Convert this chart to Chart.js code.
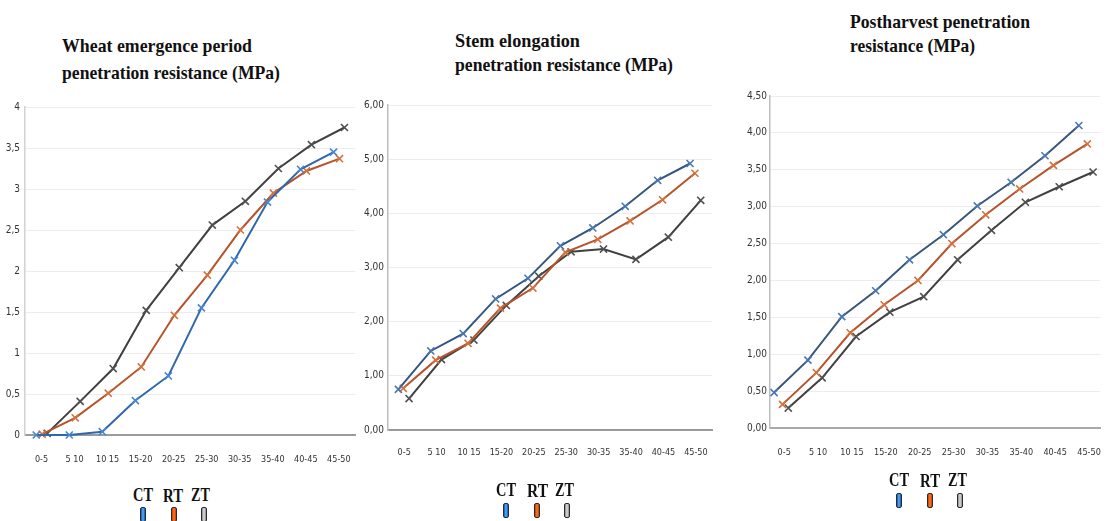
<!DOCTYPE html>
<html><head><meta charset="utf-8">
<script src="https://cdn.jsdelivr.net/npm/chart.js@4"></script>
<style>
body{margin:0;background:#fff;width:1120px;height:521px;overflow:hidden;position:relative;}
canvas{position:absolute}
.t{position:absolute;font-family:'Liberation Serif',serif;font-weight:bold;font-size:19px;color:#111;white-space:nowrap;transform-origin:0 50%;line-height:20px}
.lg{position:absolute;font-family:'Liberation Serif',serif;font-weight:bold;font-size:19px;color:#111;line-height:18px;white-space:nowrap;transform-origin:0 50%}
.sw{position:absolute;width:4px;height:13px;border:1px solid #2a2a2a;border-radius:2px}
</style></head>
<body>
<canvas id="c1" width="370" height="385" style="left:0;top:95px"></canvas>
<canvas id="c2" width="365" height="385" style="left:360px;top:95px"></canvas>
<canvas id="c3" width="385" height="395" style="left:735px;top:85px"></canvas>

<div class="t" data-w="190" style="left:62px;top:36px">Wheat emergence period</div>
<div class="t" data-w="218" style="left:62px;top:63px">penetration resistance (MPa)</div>
<div class="t" data-w="125" style="left:455px;top:31px">Stem elongation</div>
<div class="t" data-w="218" style="left:455px;top:55px">penetration resistance (MPa)</div>
<div class="t" data-w="180" style="left:850px;top:12px">Postharvest penetration</div>
<div class="t" data-w="125" style="left:850px;top:36px">resistance (MPa)</div>

<div class="lg" data-w="20" style="left:133px;top:486px">CT</div>
<div class="lg" data-w="20" style="left:163px;top:487px">RT</div>
<div class="lg" data-w="19" style="left:191px;top:486px">ZT</div>
<div class="sw" style="left:140px;top:507px;background:linear-gradient(to right,#0b56b8,#5ab0ff,#0b56b8)"></div>
<div class="sw" style="left:171px;top:507px;background:linear-gradient(to right,#c83c00,#ff7a2c,#c83c00)"></div>
<div class="sw" style="left:201px;top:507px;background:linear-gradient(to right,#8a8a8a,#e0e0e0,#8a8a8a)"></div>

<div class="lg" data-w="20" style="left:496px;top:481px">CT</div>
<div class="lg" data-w="21" style="left:527px;top:482px">RT</div>
<div class="lg" data-w="19" style="left:555px;top:481px">ZT</div>
<div class="sw" style="left:503px;top:503px;background:linear-gradient(to right,#0b56b8,#5ab0ff,#0b56b8)"></div>
<div class="sw" style="left:534px;top:503px;background:linear-gradient(to right,#c83c00,#ff7a2c,#c83c00)"></div>
<div class="sw" style="left:564px;top:503px;background:linear-gradient(to right,#8a8a8a,#e0e0e0,#8a8a8a)"></div>

<div class="lg" data-w="20" style="left:889px;top:471px">CT</div>
<div class="lg" data-w="20" style="left:920px;top:472px">RT</div>
<div class="lg" data-w="19" style="left:948px;top:471px">ZT</div>
<div class="sw" style="left:896px;top:493px;background:linear-gradient(to right,#0b56b8,#5ab0ff,#0b56b8)"></div>
<div class="sw" style="left:927px;top:493px;background:linear-gradient(to right,#c83c00,#ff7a2c,#c83c00)"></div>
<div class="sw" style="left:957px;top:493px;background:linear-gradient(to right,#8a8a8a,#e0e0e0,#8a8a8a)"></div>

<script>
const categories = ['0-5','5 10','10 15','15-20','20-25','25-30','30-35','35-40','40-45','45-50'];
const seriesNames = ['CT','RT','ZT'];

const emergenceCT = [0.00, 0.00, 0.04, 0.42, 0.72, 1.55, 2.13, 2.84, 3.24, 3.45];
const emergenceRT = [0.01, 0.21, 0.51, 0.83, 1.46, 1.95, 2.50, 2.95, 3.22, 3.37];
const emergenceZT = [0.02, 0.41, 0.81, 1.52, 2.04, 2.56, 2.85, 3.25, 3.54, 3.75];

const elongationCT = [0.75, 1.46, 1.78, 2.42, 2.80, 3.40, 3.73, 4.13, 4.61, 4.92];
const elongationRT = [0.77, 1.29, 1.60, 2.25, 2.62, 3.28, 3.52, 3.86, 4.25, 4.74];
const elongationZT = [0.58, 1.30, 1.66, 2.30, 2.84, 3.29, 3.34, 3.15, 3.56, 4.24];

const postharvestCT = [0.48, 0.92, 1.51, 1.86, 2.28, 2.62, 3.01, 3.33, 3.69, 4.10];
const postharvestRT = [0.32, 0.75, 1.29, 1.67, 2.00, 2.50, 2.89, 3.24, 3.56, 3.85];
const postharvestZT = [0.27, 0.68, 1.24, 1.57, 1.78, 2.28, 2.68, 3.06, 3.27, 3.47];

const tickFont = {family:"'Liberation Sans Narrow','DejaVu Sans Condensed','Liberation Sans',sans-serif", size:10};
const xFont = {family:"'Liberation Sans Narrow','DejaVu Sans Condensed','Liberation Sans',sans-serif", size:9};

function build(id, series, o) {
  const datasets = series.map((vals, k) => ({
    label: seriesNames[k],
    data: vals.map((v, i) => ({x: i + o.shift[k], y: v})),
    borderColor: o.line[k],
    backgroundColor: o.mark[k],
    pointBorderColor: o.mark[k],
    pointStyle: 'crossRot',
    pointRadius: 5,
    pointBorderWidth: 1.6,
    borderWidth: 2,
    tension: 0,
    clip: false
  }));
  new Chart(document.getElementById(id), {
    type: 'line',
    data: {datasets},
    options: {
      responsive: false, animation: false, devicePixelRatio: 1,
      layout: {padding: {top: o.padTop, right: o.padRight, left: 0, bottom: 0}},
      plugins: {legend: {display: false}, tooltip: {enabled: false}},
      scales: {
        x: {
          type: 'linear', min: o.xMin, max: o.xMax,
          afterBuildTicks: ax => { ax.ticks = categories.map((c, i) => ({value: i})); },
          afterFit: ax => { ax.height = o.xH; },
          grid: {display: false, drawTicks: false},
          border: {display: true, color: o.xAxisColor, width: 2},
          ticks: {callback: v => categories[v], padding: o.xPad, font: xFont, color: '#333', maxRotation: 0, autoSkip: false}
        },
        y: {
          min: 0, max: o.yMax,
          afterFit: ax => { ax.width = o.yW; },
          grid: {color: '#ececec', drawTicks: false, lineWidth: 1},
          border: {display: true, color: o.yAxisColor, width: 1.5},
          ticks: {stepSize: o.step, callback: o.fmt, padding: o.yPad, font: tickFont, color: '#333'}
        }
      }
    }
  });
}

const fmtShort = v => String(v).replace('.', ',');
const fmt2 = v => v.toFixed(2).replace('.', ',');

build('c1', [emergenceCT, emergenceRT, emergenceZT], {
  shift: [-0.16, 0.02, 0.17],
  line: ['#2f67ad', '#b5532b', '#404040'],
  mark: ['#4a86cc', '#d2723e', '#505050'],
  padTop: 12, padRight: 8, xH: 45, yW: 25, xMin: -0.5, xMax: 9.5,
  xPad: 19, yPad: 5, yMax: 4, step: 0.5, fmt: fmtShort,
  xAxisColor: '#9a9a9a', yAxisColor: '#d2d2d2'
});
build('c2', [elongationCT, elongationRT, elongationZT], {
  shift: [-0.18, -0.03, 0.15],
  line: ['#35557f', '#b5532b', '#404040'],
  mark: ['#4a78b0', '#d2723e', '#505050'],
  padTop: 10, padRight: 7, xH: 50, yW: 28, xMin: -0.5, xMax: 9.5,
  xPad: 17, yPad: 4, yMax: 6, step: 1, fmt: fmt2,
  xAxisColor: '#9a9a9a', yAxisColor: '#bdbdbd'
});
build('c3', [postharvestCT, postharvestRT, postharvestZT], {
  shift: [-0.3, -0.05, 0.12],
  line: ['#3a5679', '#b5532b', '#404040'],
  mark: ['#4a78b0', '#d2723e', '#505050'],
  padTop: 11, padRight: 0, xH: 52, yW: 35, xMin: -0.42, xMax: 9.33,
  xPad: 19, yPad: 3, yMax: 4.5, step: 0.5, fmt: fmt2,
  xAxisColor: '#a8a8a8', yAxisColor: '#bdbdbd'
});

document.querySelectorAll('[data-w]').forEach(el => {
  const w = el.getBoundingClientRect().width;
  const target = +el.dataset.w;
  if (w > 0) el.style.transform = 'scaleX(' + (target / w) + ')';
});
</script>
</body></html>
